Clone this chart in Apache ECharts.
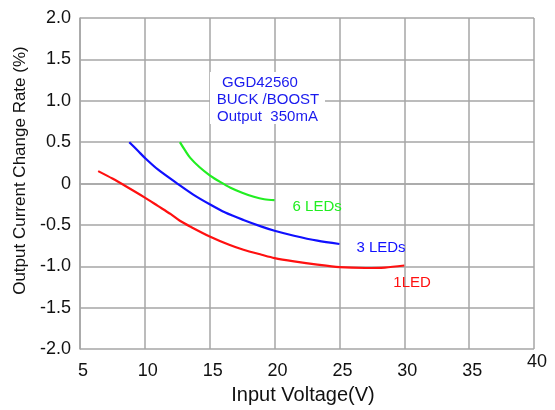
<!DOCTYPE html>
<html>
<head>
<meta charset="utf-8">
<script src="https://cdn.jsdelivr.net/npm/echarts@6/dist/echarts.min.js"></script>
<style>html,body{margin:0;padding:0;background:#fff}#c{width:555px;height:410px}</style>
</head>
<body>
<div id="c"></div>
<script>
// Data
const seriesNames = ['6 LEDs', '3 LEDs', '1LED'];
const xTicks = [5, 10, 15, 20, 25, 30, 35, 40];
const yTicks = [-2.0, -1.5, -1.0, -0.5, 0, 0.5, 1.0, 1.5, 2.0];
const led6 = [[12.7, 0.5], [13.1, 0.4], [13.5, 0.31], [14.2, 0.2], [15, 0.1], [15.8, 0.02], [16.6, -0.05], [17.5, -0.11], [18.4, -0.16], [19.2, -0.19], [20, -0.2]];
const led3 = [[8.8, 0.5], [9.5, 0.39], [10, 0.31], [11, 0.17], [12.5, 0.0], [13.7, -0.13], [15, -0.25], [16.2, -0.35], [17.6, -0.44], [19, -0.52], [20, -0.57], [21.5, -0.63], [23.3, -0.69], [25, -0.73]];
const led1 = [[6.4, 0.15], [7.5, 0.06], [8.5, -0.03], [10, -0.17], [11, -0.27], [12, -0.37], [12.7, -0.45], [13.5, -0.52], [15, -0.64], [16.5, -0.74], [17.6, -0.8], [19, -0.86], [20, -0.9], [21.5, -0.94], [23.3, -0.98], [25, -1.01], [27, -1.02], [28.5, -1.015], [30, -0.99]];
const noteLines = ['GGD42560', 'BUCK /BOOST', 'Output  350mA'];
const xTitle = 'Input Voltage(V)';
const yTitle = 'Output Current Change Rate (%)';

const chart = echarts.init(document.getElementById('c'), null, {renderer: 'canvas'});
const F = 'Liberation Sans, Arial, sans-serif';
const gridColor = '#a6a6a6';
function line(name, data, color, off) {
  return {
    name: name, type: 'line', data: data, smooth: 0.3, symbol: 'none',
    lineStyle: {color: color, width: 2.2}, itemStyle: {color: color},
    endLabel: {show: true, formatter: name, color: color, fontFamily: F, fontSize: 15, offset: off}
  };
}
chart.setOption({
  animation: false,
  backgroundColor: '#fff',
  grid: {left: 80, right: 21, top: 18, bottom: 56},
  xAxis: {
    type: 'value', min: xTicks[0], max: xTicks[xTicks.length - 1], interval: 5,
    name: xTitle, nameLocation: 'middle', nameGap: 34,
    nameTextStyle: {fontFamily: F, fontSize: 20, color: '#111', padding: [0, 8, 0, 0]},
    axisLine: {show: true, lineStyle: {color: gridColor, width: 1.5}},
    axisTick: {show: false},
    splitLine: {show: true, lineStyle: {color: gridColor, width: 1.5}},
    axisLabel: {
      fontFamily: F, fontSize: 18, color: '#111', margin: 31, verticalAlign: 'bottom',
      padding: [0, 0, 0, 6],
      formatter: v => v === 40 ? '{u|40}' : String(v),
      rich: {u: {fontFamily: F, fontSize: 18, color: '#111', padding: [0, 0, 9, 0]}}
    }
  },
  yAxis: {
    type: 'value', min: yTicks[0], max: yTicks[yTicks.length - 1], interval: 0.5,
    name: yTitle, nameLocation: 'middle', nameGap: 51,
    nameTextStyle: {fontFamily: F, fontSize: 17, color: '#111', padding: [0, 0, 0, 26]},
    axisLine: {show: true, lineStyle: {color: gridColor, width: 1.5}},
    axisTick: {show: false},
    splitLine: {show: true, lineStyle: {color: gridColor, width: 1.5}},
    axisLabel: {fontFamily: F, fontSize: 18, color: '#111', margin: 9,
      formatter: v => v === 0 ? '0' : v.toFixed(1)}
  },
  series: [
    line(seriesNames[0], led6, '#22ee22', [10, 7]),
    line(seriesNames[1], led3, '#1010ff', [9, 4]),
    line(seriesNames[2], led1, '#ff1010', [-19, 17])
  ],
  graphic: [
    {type: 'rect', left: 210, top: 72, shape: {width: 115, height: 52}, style: {fill: '#fff'}, z: 10},
    {type: 'text', x: 260, y: 83, z: 11, style: {text: noteLines[0], fill: '#1a1aee', font: '15px ' + F, textAlign: 'center', textVerticalAlign: 'middle'}},
    {type: 'text', x: 268, y: 100, z: 11, style: {text: noteLines[1], fill: '#1a1aee', font: '15px ' + F, textAlign: 'center', textVerticalAlign: 'middle'}},
    {type: 'text', x: 217, y: 117, z: 11, style: {text: noteLines[2], fill: '#1a1aee', font: '15px ' + F, textAlign: 'left', textVerticalAlign: 'middle'}}
  ]
});
</script>
</body>
</html>
